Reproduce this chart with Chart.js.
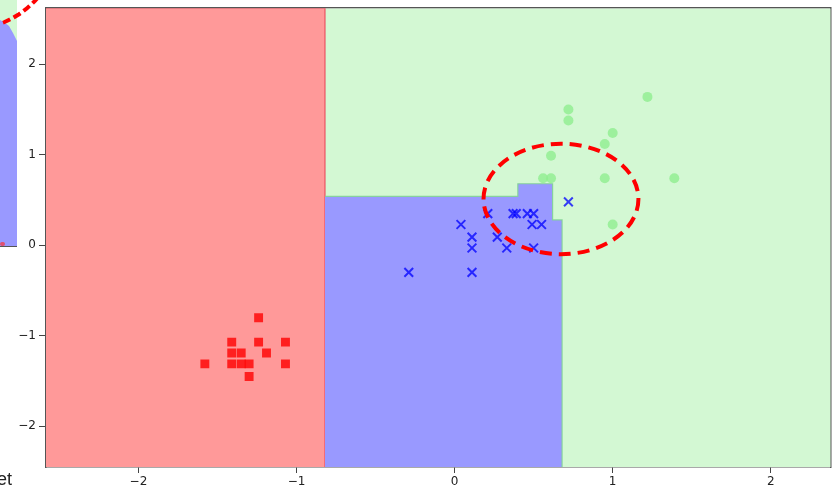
<!DOCTYPE html>
<html>
<head>
<meta charset="utf-8">
<script src="https://cdn.jsdelivr.net/npm/chart.js@4.4.1/dist/chart.umd.min.js"></script>
<style>
    body { margin: 0; background: #fff; }
    #wrap { position: relative; width: 839px; height: 491px; overflow: hidden; }
    #chart { position: absolute; left: 0; top: 0; }
    /* piece of the neighbouring figure cut off at the left edge */
    #frag { position: absolute; left: 0; top: 0; width: 17px; height: 246px; background: #9999ff;
            border-bottom: 1.5px solid #555; overflow: hidden; }
    #fragGreen { position: absolute; left: 0; top: 0; width: 17px; height: 42px; background: #d3f8d3;
                 clip-path: polygon(0 0, 17px 0, 17px 41px, 13px 33px, 9px 26px, 4px 22px, 0 20px); }
    #fragRed { position: absolute; left: 0; top: 242px; width: 5px; height: 4px; background: #e05070; border-radius: 2px; }
    #fragArc { position: absolute; left: 0; top: 0; width: 50px; height: 60px; overflow: hidden; }
    #fragArc div { position: absolute; left: -121px; top: -151px; width: 182px; height: 182px; box-sizing: border-box;
                   border: 4px dashed #ff0000; border-radius: 50%; }
    #cutText { position: absolute; left: -3px; top: 469px; font: 18px "Liberation Sans", Arial, sans-serif; color: #222; }
</style>
</head>
<body>
<div id="wrap">
    <canvas id="chart" width="839" height="491"></canvas>
    <div id="frag"><div id="fragGreen"></div><div id="fragRed"></div></div>
    <div id="fragArc"><div></div></div>
    <div id="cutText">et</div>
</div>
<script>
// axis limits and ticks
const xLimits = [-2.585, 2.38];
const yLimits = [-2.45, 2.62];
const xTicks = [-2, -1, 0, 1, 2];
const yTicks = [-2, -1, 0, 1, 2];

// decision regions (top edge of each region, filled down to the bottom)
const redRegionX = [-2.585, -0.82, -0.82];
const redRegionY = [2.62, 2.62, -2.45];
const blueRegionX = [-0.82, 0.40, 0.40, 0.62, 0.62, 0.68, 0.68];
const blueRegionY = [0.54, 0.54, 0.68, 0.68, 0.28, 0.28, -2.45];
const greenRegionX = [-2.585, 2.38];
const greenRegionY = [2.62, 2.62];

// class 0 (red squares)
const redX = [-1.24, -1.41, -1.24, -1.07, -1.41, -1.35, -1.19, -1.58, -1.41, -1.35, -1.30, -1.07, -1.30];
const redY = [-0.80, -1.07, -1.07, -1.07, -1.19, -1.19, -1.19, -1.31, -1.31, -1.31, -1.31, -1.31, -1.45];

// class 1 (blue crosses)
const blueX = [0.72, 0.21, 0.37, 0.39, 0.46, 0.50, 0.49, 0.55, 0.04, 0.11, 0.27, 0.11, 0.33, 0.50, -0.29, 0.11];
const blueY = [0.48, 0.35, 0.35, 0.35, 0.35, 0.35, 0.23, 0.23, 0.23, 0.09, 0.09, -0.03, -0.03, -0.03, -0.30, -0.30];

// class 2 (green circles)
const greenX = [1.22, 0.72, 0.72, 1.00, 0.95, 0.61, 0.56, 0.61, 0.95, 1.39, 1.00];
const greenY = [1.64, 1.50, 1.38, 1.24, 1.12, 0.99, 0.74, 0.74, 0.74, 0.74, 0.23];

// highlighted area (dashed ellipse)
const ellipseCenter = [0.673, 0.512];
const ellipseRadius = [0.49, 0.61];

const toPoints = (xs, ys) => xs.map((x, i) => ({ x: x, y: ys[i] }));
const fmt = v => (v < 0 ? '\u2212' + Math.abs(v) : String(v));

const ellipsePlugin = {
    id: 'ellipse',
    afterDatasetsDraw(chart) {
        const ctx = chart.ctx;
        const xs = chart.scales.x, ys = chart.scales.y;
        const cx = xs.getPixelForValue(ellipseCenter[0]);
        const cy = ys.getPixelForValue(ellipseCenter[1]);
        const rx = Math.abs(xs.getPixelForValue(ellipseCenter[0] + ellipseRadius[0]) - cx);
        const ry = Math.abs(ys.getPixelForValue(ellipseCenter[1] + ellipseRadius[1]) - cy);
        ctx.save();
        ctx.strokeStyle = '#ff0000';
        ctx.lineWidth = 4;
        ctx.setLineDash([12, 7]);
        ctx.beginPath();
        ctx.ellipse(cx, cy, rx, ry, 0, 0, Math.PI * 2);
        ctx.stroke();
        ctx.restore();
    }
};

const region = (xs, ys, fillColor, lineColor, order) => ({
    type: 'line',
    data: toPoints(xs, ys),
    fill: 'start',
    backgroundColor: fillColor,
    borderColor: lineColor,
    borderWidth: 1.2,
    pointRadius: 0,
    tension: 0,
    order: order
});

// keep tick labels from pushing the plot area inwards
const noPad = s => { s.paddingLeft = 0; s.paddingRight = 0; s.paddingTop = 0; s.paddingBottom = 0; };

const ctx = document.getElementById('chart').getContext('2d');
new Chart(ctx, {
    type: 'scatter',
    data: {
        datasets: [
            region(greenRegionX, greenRegionY, '#d3f8d3', 'rgba(0,0,0,0)', 12),
            region(redRegionX, redRegionY, '#ff9999', 'rgba(235,70,90,0.9)', 11),
            region(blueRegionX, blueRegionY, '#9999ff', 'rgba(130,210,150,0.9)', 10),
            {
                data: toPoints(redX, redY),
                pointStyle: 'rect',
                pointRadius: 6.3,
                backgroundColor: 'rgba(255,0,0,0.8)',
                borderWidth: 0,
                order: 2
            },
            {
                data: toPoints(blueX, blueY),
                pointStyle: 'crossRot',
                pointRadius: 6.2,
                borderColor: 'rgba(0,0,255,0.75)',
                borderWidth: 2,
                order: 1
            },
            {
                data: toPoints(greenX, greenY),
                pointStyle: 'circle',
                pointRadius: 5,
                backgroundColor: 'rgba(144,238,144,0.8)',
                borderWidth: 0,
                order: 0
            }
        ]
    },
    options: {
        responsive: false,
        animation: false,
        devicePixelRatio: 1,
        layout: { padding: { left: 0, top: 7, right: 2, bottom: 0 } },
        plugins: { legend: { display: false }, tooltip: { enabled: false } },
        scales: {
            x: {
                type: 'linear',
                min: xLimits[0],
                max: xLimits[1],
                afterBuildTicks: s => { s.ticks = xTicks.map(v => ({ value: v })); },
                afterFit: s => { s.height = 24; noPad(s); },
                grid: { drawOnChartArea: false, drawTicks: true, tickLength: 6, color: '#444' },
                border: { display: true, color: '#555', width: 1.5 },
                ticks: { callback: fmt, color: '#222', padding: 2, maxRotation: 0,
                         font: { family: 'DejaVu Sans', size: 12 } }
            },
            y: {
                type: 'linear',
                min: yLimits[0],
                max: yLimits[1],
                afterBuildTicks: s => { s.ticks = yTicks.map(v => ({ value: v })); },
                afterFit: s => { s.width = 46; noPad(s); },
                grid: { drawOnChartArea: false, drawTicks: true, tickLength: 7, color: '#444' },
                border: { display: true, color: '#555', width: 1.5 },
                ticks: { callback: fmt, color: '#222', padding: 3,
                         font: { family: 'DejaVu Sans', size: 12 } }
            },
            x2: {
                type: 'linear', position: 'top', display: true,
                min: xLimits[0], max: xLimits[1],
                afterFit: s => { s.height = 0; noPad(s); },
                grid: { display: false }, ticks: { display: false },
                border: { display: true, color: '#555', width: 1.5 }
            },
            y2: {
                type: 'linear', position: 'right', display: true,
                min: yLimits[0], max: yLimits[1],
                afterFit: s => { s.width = 0; noPad(s); },
                grid: { display: false }, ticks: { display: false },
                border: { display: true, color: '#555', width: 1.5 }
            }
        }
    },
    plugins: [ellipsePlugin]
});
</script>
</body>
</html>
